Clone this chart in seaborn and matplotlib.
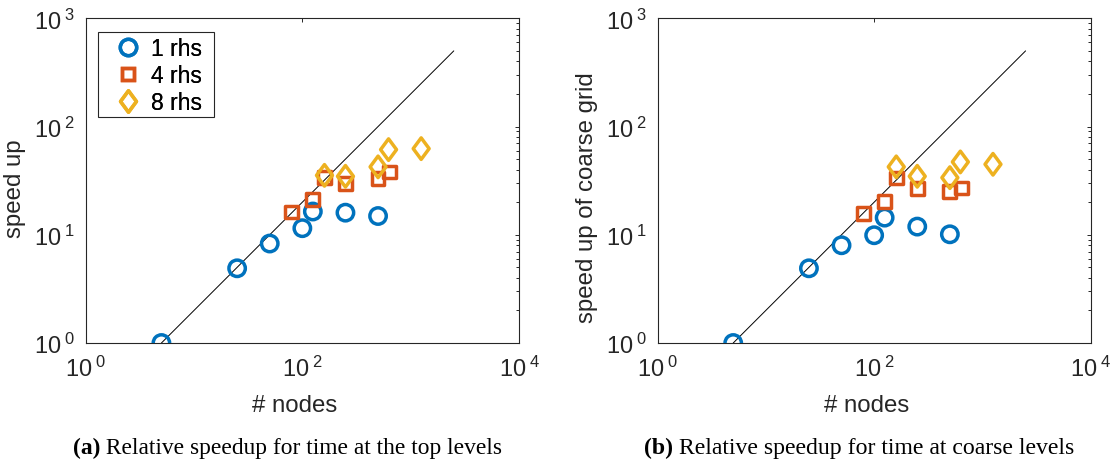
import matplotlib
matplotlib.use("Agg")
import matplotlib.pyplot as plt
import seaborn as sns
import numpy as np
import pandas as pd
from matplotlib.lines import Line2D
from matplotlib.path import Path
from matplotlib.patches import Rectangle
from matplotlib.ticker import LogLocator, NullLocator, FixedLocator, FuncFormatter

# ---- data ----
nodes_1 = [5, 25, 50, 100, 125, 250, 500]
nodes_4 = [80, 125, 160, 250, 500, 640]
nodes_8 = [160, 250, 500, 625, 1250]

top_1 = [1.0, 4.9, 8.3, 11.5, 16.4, 16.0, 14.9]
top_4 = [16.2, 21.1, 33.7, 29.6, 33.0, 38.0]
top_8 = [35.4, 34.7, 42.4, 61.2, 62.5]

coarse_1 = [1.0, 4.9, 8.0, 9.9, 14.4, 11.9, 10.1]
coarse_4 = [15.6, 20.3, 33.5, 26.7, 25.2, 27.1]
coarse_8 = [42.4, 34.7, 33.7, 47.1, 44.8]

ideal_nodes = [5, 2500]
ideal_speedup = [1, 500]

x_ticks = [1, 100, 10000]
y_ticks = [1, 10, 100, 1000]
series_labels = ["1 rhs", "4 rhs", "8 rhs"]
colors = ["#0072BD", "#D95319", "#EDB120"]

# MATLAB-like diamond (taller than wide)
diamond = Path([(0, -1), (0.74, 0), (0, 1), (-0.74, 0), (0, -1)],
               [Path.MOVETO, Path.LINETO, Path.LINETO, Path.LINETO, Path.CLOSEPOLY])
markers = ["o", "s", diamond]
msizes = [11.8, 9.2, 15.5]
mew = 2.5

panels = [
    dict(y=[top_1, top_4, top_8], ylabel="speed up", ylab_y=0.479,
         cap_b="(a)", cap=" Relative speedup for time at the top levels", cap_x=287.5),
    dict(y=[coarse_1, coarse_4, coarse_8], ylabel="speed up of coarse grid", ylab_y=0.45,
         cap_b="(b)", cap=" Relative speedup for time at coarse levels", cap_x=859),
]
nodes = [nodes_1, nodes_4, nodes_8]

sns.set_theme(style="white")
plt.rcParams["font.family"] = ["Liberation Sans", "DejaVu Sans"]
plt.rcParams["mathtext.default"] = "regular"

W, H = 1116, 464
fig = plt.figure(figsize=(W / 100, H / 100), dpi=100)
axes_px = [(85.7, 519.0), (657.5, 1090.8)]
top_px, bot_px = 19.3, 344.0
ink = "#262626"
fmt = FuncFormatter(lambda v, pos: r"$\mathdefault{10^{\:%d}}$" % int(round(np.log10(v))))

caps = []
for p, (l, r) in zip(panels, axes_px):
    aw, ah = r - l, bot_px - top_px
    ax = fig.add_axes([l / W, (H - bot_px) / H, aw / W, ah / H])
    sns.lineplot(x=ideal_nodes, y=ideal_speedup, ax=ax, color="black", linewidth=0.7)
    for i in range(3):
        df = pd.DataFrame({"nodes": nodes[i], "speedup": p["y"][i]})
        sns.scatterplot(data=df, x="nodes", y="speedup", ax=ax, marker=markers[i],
                        s=msizes[i] ** 2, legend=False, zorder=3)
        coll = ax.collections[-1]
        coll.set_facecolor("none")
        coll.set_edgecolor(colors[i])
        coll.set_linewidth(mew)
    ax.set_xscale("log")
    ax.set_yscale("log")
    ax.set_xlim(1, 1e4)
    ax.set_ylim(1, 1e3)
    ax.xaxis.set_major_locator(FixedLocator(x_ticks))
    ax.xaxis.set_major_formatter(fmt)
    ax.xaxis.set_minor_locator(NullLocator())
    ax.yaxis.set_major_locator(FixedLocator(y_ticks))
    ax.yaxis.set_major_formatter(fmt)
    ax.yaxis.set_minor_locator(LogLocator(base=10, subs=np.arange(2, 10), numticks=20))
    ax.tick_params(which="both", direction="in", top=True, right=True, colors=ink,
                   labelcolor=ink, labelsize=17, width=0.7)
    ax.tick_params(which="major", length=3.2)
    ax.tick_params(which="minor", length=2.2)
    ax.tick_params(axis="x", which="major", pad=9.5)
    ax.tick_params(axis="y", which="major", pad=8)
    for s in ax.spines.values():
        s.set_color(ink)
        s.set_linewidth(0.8)
    ax.set_xlabel("# nodes", fontsize=17.3, color=ink)
    ax.set_ylabel(p["ylabel"], fontsize=17.3, color=ink)
    ax.xaxis.set_label_coords(0.482, -0.157)
    ax.yaxis.set_label_coords(-0.137, p["ylab_y"])

    # legend: frame drawn as a rectangle at the measured box, entries via ax.legend
    box_l, box_r, box_t, box_b = 98.3, 214.3, 33.3, 118.3
    ax.add_patch(Rectangle(((box_l - l) / aw, (bot_px - box_b) / ah),
                           (box_r - box_l) / aw, (box_b - box_t) / ah,
                           transform=ax.transAxes, facecolor="white", edgecolor=ink,
                           linewidth=0.8, zorder=4))
    handles = [Line2D([], [], linestyle="none", marker=markers[i], markersize=msizes[i],
                      markerfacecolor="none", markeredgecolor=colors[i], markeredgewidth=mew)
               for i in range(3)]
    fs_px = 16.5 * 100 / 72
    hl = 1.5
    hx = 128.3 - hl * fs_px / 2
    leg = ax.legend(handles, series_labels, loc="upper left",
                    bbox_to_anchor=((hx - l) / aw, (bot_px - 38.0) / ah),
                    borderaxespad=0, borderpad=0, fontsize=16.5, frameon=False,
                    handlelength=hl, handletextpad=0.25, labelspacing=0.18)
    leg.set_zorder(5)
    for t in leg.get_texts():
        t.set_color("black")

    t1 = fig.text(p["cap_x"] / W, 1 - 448 / H, p["cap_b"], fontsize=16, weight="bold",
                  family=["Liberation Serif", "DejaVu Serif"], ha="left", va="center",
                  color="black")
    t2 = fig.text(0, 0, p["cap"], fontsize=16, family=["Liberation Serif", "DejaVu Serif"],
                  color="black", ha="left", va="bottom")
    caps.append((t1, t2, p["cap_x"]))

fig.canvas.draw()
renderer = fig.canvas.get_renderer()
target_w = 430.0
for t1, t2, cx in caps:
    total = t1.get_window_extent(renderer).width + t2.get_window_extent(renderer).width
    fsz = 16 * target_w / total
    t1.set_fontsize(fsz)
    t2.set_fontsize(fsz)
fig.canvas.draw()
for t1, t2, cx in caps:
    b1 = t1.get_window_extent(renderer)
    b2 = t2.get_window_extent(renderer)
    total = b1.width + b2.width
    x0 = cx - total / 2
    t1.set_x(x0 / W)
    b1 = t1.get_window_extent(renderer)
    t2.set_position(((x0 + b1.width) / W, b1.y0 / H))

fig.savefig("out.png", dpi=100, facecolor="white")
